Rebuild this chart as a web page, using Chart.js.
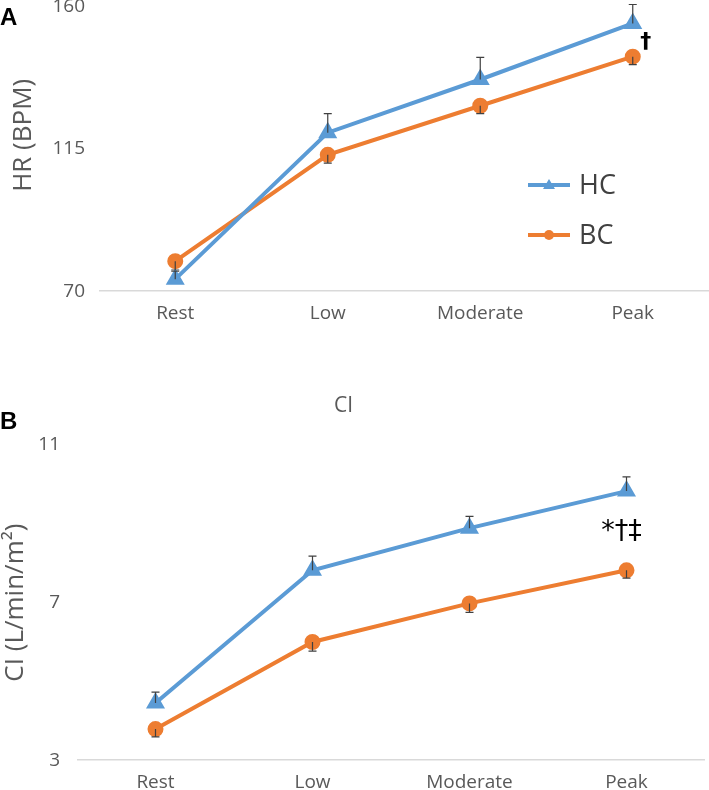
<!DOCTYPE html>
<html lang="en">
<head>
    <meta charset="UTF-8">
    <title>HR and CI</title>
    <script src="https://cdn.jsdelivr.net/npm/chart.js"></script>
    <style>
        body { margin: 0; background: #fff; }
        .page { position: relative; width: 709px; height: 790px; overflow: hidden; }
        .panel { position: absolute; left: 0; }
        .tag { position: absolute; font: bold 24px "Liberation Sans", Arial, sans-serif; color: #000; z-index: 2; line-height: 1; }
        .ptitle { position: absolute; font: 21px "Open Sans", sans-serif; color: #595959; line-height: 1; z-index: 2; }
    </style>
</head>
<body>
    <div class="page">
        <div class="tag" style="left:0px; top:5px;">A</div>
        <div class="tag" style="left:0px; top:409px;">B</div>
        <div class="ptitle" style="left:334px; top:394px;">CI</div>
        <div class="panel" style="top:-19px; width:720px; height:353px;"><canvas id="hrChart"></canvas></div>
        <div class="panel" style="top:385px; width:716px; height:412px;"><canvas id="ciChart"></canvas></div>
    </div>

    <script>
        // data
        const stages = ['Rest', 'Low', 'Moderate', 'Peak'];
        const groups = ['HC', 'BC'];

        const hrHC = [73.8, 120.1, 136.9, 154.6];
        const hrHCErr = [2.5, 6, 7, 6];
        const hrBC = [79.5, 113.1, 128.6, 144.1];
        const hrBCErr = [2.8, 2.6, 2.5, 2.5];
        const hrTicks = [70, 115, 160];

        const ciHC = [4.45, 7.82, 8.89, 9.83];
        const ciHCErr = [0.28, 0.36, 0.3, 0.36];
        const ciBC = [3.79, 6.0, 6.98, 7.82];
        const ciBCErr = [0.2, 0.23, 0.23, 0.2];
        const ciTicks = [3, 7, 11];

        const blue = '#5B9BD5';
        const orange = '#ED7D31';
        const font = '"Open Sans", sans-serif';

        // error bars: HC goes up, BC goes down
        const errorBars = {
            id: 'errorBars',
            afterDatasetsDraw(chart) {
                const ctx = chart.ctx;
                const y = chart.scales.y;
                chart.data.datasets.forEach((ds, i) => {
                    const meta = chart.getDatasetMeta(i);
                    meta.data.forEach((pt, j) => {
                        const v = ds.data[j] + ds.errDir * ds.err[j];
                        const yy = y.getPixelForValue(v);
                        ctx.save();
                        ctx.strokeStyle = '#404040';
                        ctx.lineWidth = 1.2;
                        ctx.beginPath();
                        ctx.moveTo(pt.x, pt.y);
                        ctx.lineTo(pt.x, yy);
                        ctx.moveTo(pt.x - 4, yy);
                        ctx.lineTo(pt.x + 4, yy);
                        ctx.stroke();
                        ctx.restore();
                    });
                });
            }
        };

        // significance marks placed in data units
        const marks = {
            id: 'marks',
            afterDraw(chart, args, opts) {
                const ctx = chart.ctx;
                (opts.items || []).forEach(m => {
                    const x = chart.scales.x.getPixelForValue(m.index) + m.dx;
                    const y = chart.scales.y.getPixelForValue(m.value);
                    ctx.save();
                    ctx.fillStyle = '#000';
                    ctx.font = m.font;
                    ctx.textAlign = 'center';
                    ctx.textBaseline = 'middle';
                    ctx.fillText(m.text, x, y);
                    ctx.restore();
                });
            }
        };

        // legend drawn as line + marker, like the original
        const lineLegend = {
            id: 'lineLegend',
            afterDraw(chart, args, opts) {
                if (!opts.show) return;
                const ctx = chart.ctx;
                chart.data.datasets.forEach((ds, i) => {
                    const x0 = opts.x, y0 = opts.y + i * opts.gap;
                    ctx.save();
                    ctx.strokeStyle = ds.borderColor;
                    ctx.lineWidth = 4;
                    ctx.beginPath();
                    ctx.moveTo(x0, y0);
                    ctx.lineTo(x0 + 42, y0);
                    ctx.stroke();
                    ctx.fillStyle = ds.borderColor;
                    ctx.beginPath();
                    if (ds.pointStyle === 'triangle') {
                        ctx.moveTo(x0 + 21, y0 - 6);
                        ctx.lineTo(x0 + 27, y0 + 4);
                        ctx.lineTo(x0 + 15, y0 + 4);
                        ctx.closePath();
                    } else {
                        ctx.arc(x0 + 21, y0, 5, 0, Math.PI * 2);
                    }
                    ctx.fill();
                    ctx.fillStyle = '#404040';
                    ctx.font = '27px ' + font;
                    ctx.textBaseline = 'middle';
                    ctx.fillText(ds.label, x0 + 51, y0 + 1);
                    ctx.restore();
                });
            }
        };

        function makeChart(id, hc, hcErr, bc, bcErr, ticks, yTitle, yWidth, extra) {
            return new Chart(document.getElementById(id), {
                type: 'line',
                data: {
                    labels: stages,
                    datasets: [
                        { label: groups[0], data: hc, err: hcErr, errDir: 1, borderColor: blue, backgroundColor: blue,
                          borderWidth: 4, pointStyle: 'triangle', pointRadius: 7, tension: 0 },
                        { label: groups[1], data: bc, err: bcErr, errDir: -1, borderColor: orange, backgroundColor: orange,
                          borderWidth: 4, pointStyle: 'circle', pointRadius: 6, tension: 0 }
                    ]
                },
                options: {
                    responsive: true,
                    maintainAspectRatio: false,
                    animation: false,
                    layout: { padding: extra.padding },
                    plugins: {
                        legend: { display: false },
                        tooltip: { enabled: false },
                        title: { display: false },
                        lineLegend: extra.legend,
                        marks: { items: extra.marks }
                    },
                    scales: {
                        x: {
                            offset: true,
                            grid: { display: false },
                            border: { display: false },
                            ticks: { color: '#595959', font: { family: font, size: 19 }, padding: 3 }
                        },
                        y: {
                            min: ticks[0],
                            max: ticks[ticks.length - 1],
                            afterBuildTicks: s => { s.ticks = ticks.map(v => ({ value: v })); },
                            afterFit: s => { s.width = yWidth; },
                            grid: {
                                drawTicks: false,
                                color: ctx => ctx.tick.value === ticks[0] ? '#d9d9d9' : 'rgba(0,0,0,0)',
                                lineWidth: 1.5
                            },
                            border: { display: false },
                            ticks: { color: '#595959', font: { family: font, size: 19 }, padding: extra.tickPad },
                            title: { display: true, text: yTitle, color: '#595959', font: { family: font, size: 26 },
                                     padding: { top: extra.titleShift, bottom: 0 } }
                        }
                    }
                },
                plugins: [errorBars, marks, lineLegend]
            });
        }

        makeChart('hrChart', hrHC, hrHCErr, hrBC, hrBCErr, hrTicks, '    HR (BPM)', 99, {
            padding: { top: 0, right: 0, bottom: 6, left: 0 },
            tickPad: 14,
            titleShift: 8,
            legend: { show: true, x: 528, y: 204, gap: 50 },
            marks: [{ index: 3, value: 148.6, dx: 13, text: '†', font: 'bold 22px "DejaVu Sans", sans-serif' }]
        });

        makeChart('ciChart', ciHC, ciHCErr, ciBC, ciBCErr, ciTicks, 'CI (L/min/m²)', 77, {
            padding: { top: 60, right: 0, bottom: 0, left: 0 },
            tickPad: 17,
            titleShift: 0,
            legend: { show: false },
            marks: [{ index: 3, value: 8.79, dx: -5, text: '*†‡', font: '27px "DejaVu Sans", sans-serif' }]
        });
    </script>
</body>
</html>
